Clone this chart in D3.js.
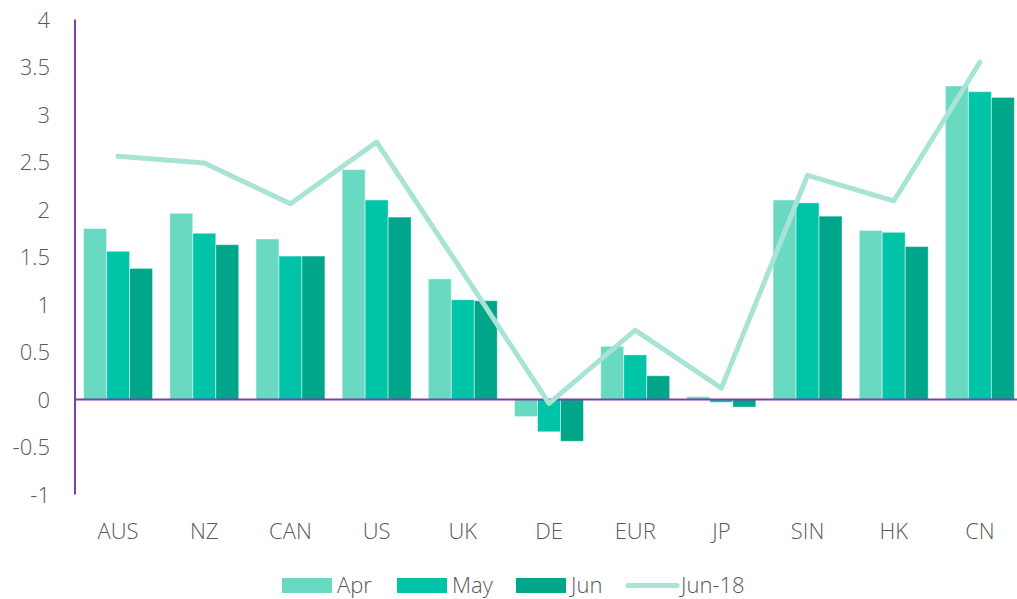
<!DOCTYPE html>
<html>
<head>
<meta charset="utf-8">
<script src="https://cdn.jsdelivr.net/npm/d3@7"></script>
<style>
  html, body { margin: 0; padding: 0; background: #ffffff; }
  svg text { font-family: "Open Sans", "Noto Sans", sans-serif; font-weight: 300; fill: #595959; }
</style>
</head>
<body>
<svg id="chart" width="1017" height="599"></svg>
<script>
const categories = ["AUS", "NZ", "CAN", "US", "UK", "DE", "EUR", "JP", "SIN", "HK", "CN"];
const seriesNames = ["Apr", "May", "Jun"];
const aprValues = [1.80, 1.96, 1.69, 2.42, 1.27, -0.18, 0.56, 0.03, 2.10, 1.78, 3.30];
const mayValues = [1.56, 1.75, 1.51, 2.10, 1.05, -0.34, 0.47, -0.03, 2.07, 1.76, 3.24];
const junValues = [1.38, 1.63, 1.51, 1.92, 1.04, -0.44, 0.25, -0.08, 1.93, 1.61, 3.18];
const jun18Values = [2.56, 2.49, 2.06, 2.71, 1.34, -0.04, 0.73, 0.12, 2.36, 2.09, 3.55];
const yTicks = [-1, -0.5, 0, 0.5, 1, 1.5, 2, 2.5, 3, 3.5, 4];
const lineName = "Jun-18";

const barColors = ["#6ad9c2", "#00c4a7", "#00a68a"];
const lineColor = "#a8e4d5";
const axisColor = "#7b3fae";

const svg = d3.select("#chart");
const plotLeft = 75, plotRight = 1023, plotTop = 19.5, plotBottom = 494.5;

const x = d3.scaleBand().domain(categories).range([plotLeft, plotRight]).paddingInner(0.2).paddingOuter(0.1);
const xs = d3.scaleBand().domain(seriesNames).range([0, x.bandwidth()]);
const y = d3.scaleLinear().domain([-1, 4]).range([plotBottom, plotTop]);

const series = [aprValues, mayValues, junValues];

// bars
series.forEach((vals, si) => {
  svg.append("g").selectAll("rect").data(vals).join("rect")
    .attr("x", (d, i) => x(categories[i]) + xs(seriesNames[si]))
    .attr("width", xs.bandwidth())
    .attr("y", d => Math.min(y(d), y(0)))
    .attr("height", d => Math.abs(y(d) - y(0)))
    .attr("fill", barColors[si])
    .attr("stroke", "#ffffff")
    .attr("stroke-opacity", 0.45)
    .attr("stroke-width", 1);
});

// y axis tick labels
const yAxis = d3.axisLeft(y).tickValues(yTicks).tickSize(0).tickPadding(0).tickFormat(d => String(d));
const gy = svg.append("g").attr("transform", `translate(50,0)`).call(yAxis);
gy.select(".domain").remove();
gy.selectAll("text").style("font-size", "22px").attr("fill", "#595959").attr("dy", "0.35em");

// x axis labels
const xAxis = d3.axisBottom(x).tickSize(0).tickPadding(0);
const gx = svg.append("g").attr("transform", `translate(0,539)`).call(xAxis);
gx.select(".domain").remove();
gx.selectAll("text").style("font-size", "22px").attr("fill", "#595959").attr("y", 0).attr("dy", "0");

// axis lines
svg.append("line").attr("x1", plotLeft).attr("x2", plotLeft).attr("y1", plotTop).attr("y2", plotBottom)
  .attr("stroke", axisColor).attr("stroke-width", 2);
svg.append("line").attr("x1", plotLeft).attr("x2", 1020).attr("y1", y(0)).attr("y2", y(0))
  .attr("stroke", axisColor).attr("stroke-width", 2);

// line
const line = d3.line().x((d, i) => x(categories[i]) + x.bandwidth() / 2).y(d => y(d));
svg.append("path").datum(jun18Values).attr("d", line)
  .attr("fill", "none").attr("stroke", lineColor).attr("stroke-width", 5)
  .attr("stroke-linecap", "round").attr("stroke-linejoin", "round");

// legend
const legend = svg.append("g");
const legendItems = [
  {name: seriesNames[0], type: "bar", color: barColors[0], x: 282},
  {name: seriesNames[1], type: "bar", color: barColors[1], x: 397},
  {name: seriesNames[2], type: "bar", color: barColors[2], x: 516},
  {name: lineName, type: "line", color: lineColor, x: 626}
];
legendItems.forEach(it => {
  if (it.type === "bar") {
    legend.append("rect").attr("x", it.x).attr("y", 578).attr("width", 50).attr("height", 15).attr("fill", it.color);
  } else {
    legend.append("line").attr("x1", it.x + 2).attr("x2", it.x + 51).attr("y1", 585.5).attr("y2", 585.5)
      .attr("stroke", it.color).attr("stroke-width", 5).attr("stroke-linecap", "round");
  }
  legend.append("text").attr("x", it.x + 55).attr("y", 593).style("font-size", "22px").text(it.name);
});
</script>
</body>
</html>
